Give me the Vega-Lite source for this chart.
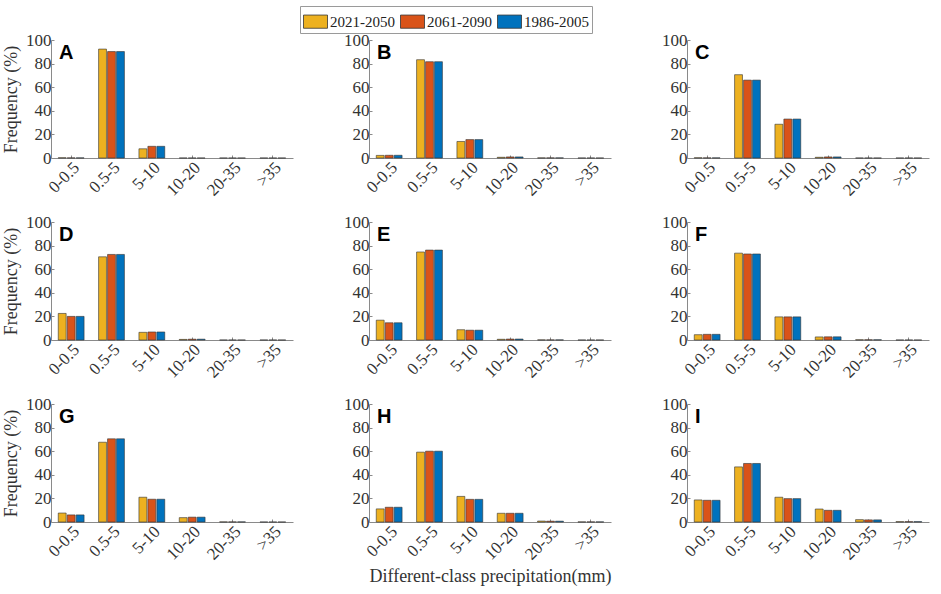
{
  "$schema": "https://vega.github.io/schema/vega-lite/v6.json",
  "padding": {"left": 2, "top": 5, "right": 5, "bottom": 5},
  "background": "white",
  "datasets": {
    "freq": [
      {"panel": "A", "cls": "0-0.5", "period": "2021-2050", "value": 0.2},
      {"panel": "A", "cls": "0-0.5", "period": "2061-2090", "value": 0.1},
      {"panel": "A", "cls": "0-0.5", "period": "1986-2005", "value": 0.1},
      {"panel": "A", "cls": "0.5-5", "period": "2021-2050", "value": 92.3},
      {"panel": "A", "cls": "0.5-5", "period": "2061-2090", "value": 90.2},
      {"panel": "A", "cls": "0.5-5", "period": "1986-2005", "value": 90.2},
      {"panel": "A", "cls": "5-10", "period": "2021-2050", "value": 7.8},
      {"panel": "A", "cls": "5-10", "period": "2061-2090", "value": 9.9},
      {"panel": "A", "cls": "5-10", "period": "1986-2005", "value": 9.9},
      {"panel": "A", "cls": "10-20", "period": "2021-2050", "value": 0},
      {"panel": "A", "cls": "10-20", "period": "2061-2090", "value": 0},
      {"panel": "A", "cls": "10-20", "period": "1986-2005", "value": 0},
      {"panel": "A", "cls": "20-35", "period": "2021-2050", "value": 0},
      {"panel": "A", "cls": "20-35", "period": "2061-2090", "value": 0},
      {"panel": "A", "cls": "20-35", "period": "1986-2005", "value": 0},
      {"panel": "A", "cls": ">35", "period": "2021-2050", "value": 0},
      {"panel": "A", "cls": ">35", "period": "2061-2090", "value": 0},
      {"panel": "A", "cls": ">35", "period": "1986-2005", "value": 0},

      {"panel": "B", "cls": "0-0.5", "period": "2021-2050", "value": 2.2},
      {"panel": "B", "cls": "0-0.5", "period": "2061-2090", "value": 2.3},
      {"panel": "B", "cls": "0-0.5", "period": "1986-2005", "value": 2.3},
      {"panel": "B", "cls": "0.5-5", "period": "2021-2050", "value": 83.3},
      {"panel": "B", "cls": "0.5-5", "period": "2061-2090", "value": 81.6},
      {"panel": "B", "cls": "0.5-5", "period": "1986-2005", "value": 81.6},
      {"panel": "B", "cls": "5-10", "period": "2021-2050", "value": 14.0},
      {"panel": "B", "cls": "5-10", "period": "2061-2090", "value": 15.6},
      {"panel": "B", "cls": "5-10", "period": "1986-2005", "value": 15.6},
      {"panel": "B", "cls": "10-20", "period": "2021-2050", "value": 0.6},
      {"panel": "B", "cls": "10-20", "period": "2061-2090", "value": 0.9},
      {"panel": "B", "cls": "10-20", "period": "1986-2005", "value": 0.9},
      {"panel": "B", "cls": "20-35", "period": "2021-2050", "value": 0.1},
      {"panel": "B", "cls": "20-35", "period": "2061-2090", "value": 0.1},
      {"panel": "B", "cls": "20-35", "period": "1986-2005", "value": 0.1},
      {"panel": "B", "cls": ">35", "period": "2021-2050", "value": 0},
      {"panel": "B", "cls": ">35", "period": "2061-2090", "value": 0},
      {"panel": "B", "cls": ">35", "period": "1986-2005", "value": 0},

      {"panel": "C", "cls": "0-0.5", "period": "2021-2050", "value": 0.2},
      {"panel": "C", "cls": "0-0.5", "period": "2061-2090", "value": 0.1},
      {"panel": "C", "cls": "0-0.5", "period": "1986-2005", "value": 0.1},
      {"panel": "C", "cls": "0.5-5", "period": "2021-2050", "value": 70.6},
      {"panel": "C", "cls": "0.5-5", "period": "2061-2090", "value": 66.0},
      {"panel": "C", "cls": "0.5-5", "period": "1986-2005", "value": 66.0},
      {"panel": "C", "cls": "5-10", "period": "2021-2050", "value": 28.6},
      {"panel": "C", "cls": "5-10", "period": "2061-2090", "value": 33.0},
      {"panel": "C", "cls": "5-10", "period": "1986-2005", "value": 33.0},
      {"panel": "C", "cls": "10-20", "period": "2021-2050", "value": 0.6},
      {"panel": "C", "cls": "10-20", "period": "2061-2090", "value": 0.9},
      {"panel": "C", "cls": "10-20", "period": "1986-2005", "value": 0.9},
      {"panel": "C", "cls": "20-35", "period": "2021-2050", "value": 0},
      {"panel": "C", "cls": "20-35", "period": "2061-2090", "value": 0},
      {"panel": "C", "cls": "20-35", "period": "1986-2005", "value": 0},
      {"panel": "C", "cls": ">35", "period": "2021-2050", "value": 0},
      {"panel": "C", "cls": ">35", "period": "2061-2090", "value": 0},
      {"panel": "C", "cls": ">35", "period": "1986-2005", "value": 0},

      {"panel": "D", "cls": "0-0.5", "period": "2021-2050", "value": 22.5},
      {"panel": "D", "cls": "0-0.5", "period": "2061-2090", "value": 20.0},
      {"panel": "D", "cls": "0-0.5", "period": "1986-2005", "value": 20.0},
      {"panel": "D", "cls": "0.5-5", "period": "2021-2050", "value": 70.5},
      {"panel": "D", "cls": "0.5-5", "period": "2061-2090", "value": 72.5},
      {"panel": "D", "cls": "0.5-5", "period": "1986-2005", "value": 72.5},
      {"panel": "D", "cls": "5-10", "period": "2021-2050", "value": 6.5},
      {"panel": "D", "cls": "5-10", "period": "2061-2090", "value": 6.8},
      {"panel": "D", "cls": "5-10", "period": "1986-2005", "value": 6.8},
      {"panel": "D", "cls": "10-20", "period": "2021-2050", "value": 0.5},
      {"panel": "D", "cls": "10-20", "period": "2061-2090", "value": 0.7},
      {"panel": "D", "cls": "10-20", "period": "1986-2005", "value": 0.7},
      {"panel": "D", "cls": "20-35", "period": "2021-2050", "value": 0},
      {"panel": "D", "cls": "20-35", "period": "2061-2090", "value": 0},
      {"panel": "D", "cls": "20-35", "period": "1986-2005", "value": 0},
      {"panel": "D", "cls": ">35", "period": "2021-2050", "value": 0},
      {"panel": "D", "cls": ">35", "period": "2061-2090", "value": 0},
      {"panel": "D", "cls": ">35", "period": "1986-2005", "value": 0},

      {"panel": "E", "cls": "0-0.5", "period": "2021-2050", "value": 16.8},
      {"panel": "E", "cls": "0-0.5", "period": "2061-2090", "value": 14.6},
      {"panel": "E", "cls": "0-0.5", "period": "1986-2005", "value": 14.6},
      {"panel": "E", "cls": "0.5-5", "period": "2021-2050", "value": 74.6},
      {"panel": "E", "cls": "0.5-5", "period": "2061-2090", "value": 76.2},
      {"panel": "E", "cls": "0.5-5", "period": "1986-2005", "value": 76.2},
      {"panel": "E", "cls": "5-10", "period": "2021-2050", "value": 8.7},
      {"panel": "E", "cls": "5-10", "period": "2061-2090", "value": 8.3},
      {"panel": "E", "cls": "5-10", "period": "1986-2005", "value": 8.3},
      {"panel": "E", "cls": "10-20", "period": "2021-2050", "value": 0.6},
      {"panel": "E", "cls": "10-20", "period": "2061-2090", "value": 0.8},
      {"panel": "E", "cls": "10-20", "period": "1986-2005", "value": 0.8},
      {"panel": "E", "cls": "20-35", "period": "2021-2050", "value": 0.1},
      {"panel": "E", "cls": "20-35", "period": "2061-2090", "value": 0.1},
      {"panel": "E", "cls": "20-35", "period": "1986-2005", "value": 0.1},
      {"panel": "E", "cls": ">35", "period": "2021-2050", "value": 0},
      {"panel": "E", "cls": ">35", "period": "2061-2090", "value": 0},
      {"panel": "E", "cls": ">35", "period": "1986-2005", "value": 0},

      {"panel": "F", "cls": "0-0.5", "period": "2021-2050", "value": 4.5},
      {"panel": "F", "cls": "0-0.5", "period": "2061-2090", "value": 4.8},
      {"panel": "F", "cls": "0-0.5", "period": "1986-2005", "value": 4.8},
      {"panel": "F", "cls": "0.5-5", "period": "2021-2050", "value": 73.6},
      {"panel": "F", "cls": "0.5-5", "period": "2061-2090", "value": 72.9},
      {"panel": "F", "cls": "0.5-5", "period": "1986-2005", "value": 72.9},
      {"panel": "F", "cls": "5-10", "period": "2021-2050", "value": 19.6},
      {"panel": "F", "cls": "5-10", "period": "2061-2090", "value": 19.6},
      {"panel": "F", "cls": "5-10", "period": "1986-2005", "value": 19.6},
      {"panel": "F", "cls": "10-20", "period": "2021-2050", "value": 2.6},
      {"panel": "F", "cls": "10-20", "period": "2061-2090", "value": 2.7},
      {"panel": "F", "cls": "10-20", "period": "1986-2005", "value": 2.7},
      {"panel": "F", "cls": "20-35", "period": "2021-2050", "value": 0.2},
      {"panel": "F", "cls": "20-35", "period": "2061-2090", "value": 0.2},
      {"panel": "F", "cls": "20-35", "period": "1986-2005", "value": 0.2},
      {"panel": "F", "cls": ">35", "period": "2021-2050", "value": 0},
      {"panel": "F", "cls": ">35", "period": "2061-2090", "value": 0},
      {"panel": "F", "cls": ">35", "period": "1986-2005", "value": 0},

      {"panel": "G", "cls": "0-0.5", "period": "2021-2050", "value": 7.6},
      {"panel": "G", "cls": "0-0.5", "period": "2061-2090", "value": 6.0},
      {"panel": "G", "cls": "0-0.5", "period": "1986-2005", "value": 6.0},
      {"panel": "G", "cls": "0.5-5", "period": "2021-2050", "value": 67.6},
      {"panel": "G", "cls": "0.5-5", "period": "2061-2090", "value": 70.5},
      {"panel": "G", "cls": "0.5-5", "period": "1986-2005", "value": 70.5},
      {"panel": "G", "cls": "5-10", "period": "2021-2050", "value": 21.0},
      {"panel": "G", "cls": "5-10", "period": "2061-2090", "value": 19.3},
      {"panel": "G", "cls": "5-10", "period": "1986-2005", "value": 19.3},
      {"panel": "G", "cls": "10-20", "period": "2021-2050", "value": 3.7},
      {"panel": "G", "cls": "10-20", "period": "2061-2090", "value": 4.1},
      {"panel": "G", "cls": "10-20", "period": "1986-2005", "value": 4.1},
      {"panel": "G", "cls": "20-35", "period": "2021-2050", "value": 0.1},
      {"panel": "G", "cls": "20-35", "period": "2061-2090", "value": 0.1},
      {"panel": "G", "cls": "20-35", "period": "1986-2005", "value": 0.1},
      {"panel": "G", "cls": ">35", "period": "2021-2050", "value": 0},
      {"panel": "G", "cls": ">35", "period": "2061-2090", "value": 0},
      {"panel": "G", "cls": ">35", "period": "1986-2005", "value": 0},

      {"panel": "H", "cls": "0-0.5", "period": "2021-2050", "value": 11.1},
      {"panel": "H", "cls": "0-0.5", "period": "2061-2090", "value": 12.5},
      {"panel": "H", "cls": "0-0.5", "period": "1986-2005", "value": 12.5},
      {"panel": "H", "cls": "0.5-5", "period": "2021-2050", "value": 59.2},
      {"panel": "H", "cls": "0.5-5", "period": "2061-2090", "value": 60.0},
      {"panel": "H", "cls": "0.5-5", "period": "1986-2005", "value": 60.0},
      {"panel": "H", "cls": "5-10", "period": "2021-2050", "value": 21.7},
      {"panel": "H", "cls": "5-10", "period": "2061-2090", "value": 19.2},
      {"panel": "H", "cls": "5-10", "period": "1986-2005", "value": 19.2},
      {"panel": "H", "cls": "10-20", "period": "2021-2050", "value": 7.4},
      {"panel": "H", "cls": "10-20", "period": "2061-2090", "value": 7.4},
      {"panel": "H", "cls": "10-20", "period": "1986-2005", "value": 7.4},
      {"panel": "H", "cls": "20-35", "period": "2021-2050", "value": 0.8},
      {"panel": "H", "cls": "20-35", "period": "2061-2090", "value": 0.7},
      {"panel": "H", "cls": "20-35", "period": "1986-2005", "value": 0.7},
      {"panel": "H", "cls": ">35", "period": "2021-2050", "value": 0.1},
      {"panel": "H", "cls": ">35", "period": "2061-2090", "value": 0.1},
      {"panel": "H", "cls": ">35", "period": "1986-2005", "value": 0.1},

      {"panel": "I", "cls": "0-0.5", "period": "2021-2050", "value": 18.7},
      {"panel": "I", "cls": "0-0.5", "period": "2061-2090", "value": 18.4},
      {"panel": "I", "cls": "0-0.5", "period": "1986-2005", "value": 18.4},
      {"panel": "I", "cls": "0.5-5", "period": "2021-2050", "value": 46.7},
      {"panel": "I", "cls": "0.5-5", "period": "2061-2090", "value": 49.6},
      {"panel": "I", "cls": "0.5-5", "period": "1986-2005", "value": 49.6},
      {"panel": "I", "cls": "5-10", "period": "2021-2050", "value": 21.0},
      {"panel": "I", "cls": "5-10", "period": "2061-2090", "value": 19.8},
      {"panel": "I", "cls": "5-10", "period": "1986-2005", "value": 19.8},
      {"panel": "I", "cls": "10-20", "period": "2021-2050", "value": 11.0},
      {"panel": "I", "cls": "10-20", "period": "2061-2090", "value": 9.9},
      {"panel": "I", "cls": "10-20", "period": "1986-2005", "value": 9.9},
      {"panel": "I", "cls": "20-35", "period": "2021-2050", "value": 2.0},
      {"panel": "I", "cls": "20-35", "period": "2061-2090", "value": 1.8},
      {"panel": "I", "cls": "20-35", "period": "1986-2005", "value": 1.8},
      {"panel": "I", "cls": ">35", "period": "2021-2050", "value": 0.3},
      {"panel": "I", "cls": ">35", "period": "2061-2090", "value": 0.3},
      {"panel": "I", "cls": ">35", "period": "1986-2005", "value": 0.3}
    ]
  },
  "data": {"name": "freq"},
  "bounds": "flush",
  "columns": 3,
  "spacing": {"row": 64, "column": 76},
  "concat": [
    {
      "width": 242, "height": 118,
      "title": "A",
      "transform": [{"filter": "datum.panel === 'A'"}],
      "mark": {"type": "bar", "stroke": "#333333", "strokeWidth": 0.6},
      "encoding": {
        "x": {"field": "cls", "type": "nominal", "sort": ["0-0.5", "0.5-5", "5-10", "10-20", "20-35", ">35"], "scale": {"paddingInner": 0.36, "paddingOuter": 0.18}, "axis": {"title": null}},
        "xOffset": {"field": "period", "sort": ["2021-2050", "2061-2090", "1986-2005"], "scale": {"paddingInner": 0.12}},
        "y": {"field": "value", "type": "quantitative", "scale": {"domain": [0, 100]}, "axis": {"title": "Frequency (%)", "values": [0, 20, 40, 60, 80, 100]}},
        "color": {"field": "period", "type": "nominal", "sort": ["2021-2050", "2061-2090", "1986-2005"], "scale": {"range": ["#EDB120", "#D95319", "#0072BD"]},
          "legend": {"orient": "none", "legendX": 249, "legendY": -34, "direction": "horizontal", "title": null}}
      }
    },
    {
      "width": 242, "height": 118,
      "title": "B",
      "transform": [{"filter": "datum.panel === 'B'"}],
      "mark": {"type": "bar", "stroke": "#333333", "strokeWidth": 0.6},
      "encoding": {
        "x": {"field": "cls", "type": "nominal", "sort": ["0-0.5", "0.5-5", "5-10", "10-20", "20-35", ">35"], "scale": {"paddingInner": 0.36, "paddingOuter": 0.18}, "axis": {"title": null}},
        "xOffset": {"field": "period", "sort": ["2021-2050", "2061-2090", "1986-2005"], "scale": {"paddingInner": 0.12}},
        "y": {"field": "value", "type": "quantitative", "scale": {"domain": [0, 100]}, "axis": {"title": null, "values": [0, 20, 40, 60, 80, 100]}},
        "color": {"field": "period", "type": "nominal", "sort": ["2021-2050", "2061-2090", "1986-2005"]}
      }
    },
    {
      "width": 242, "height": 118,
      "title": "C",
      "transform": [{"filter": "datum.panel === 'C'"}],
      "mark": {"type": "bar", "stroke": "#333333", "strokeWidth": 0.6},
      "encoding": {
        "x": {"field": "cls", "type": "nominal", "sort": ["0-0.5", "0.5-5", "5-10", "10-20", "20-35", ">35"], "scale": {"paddingInner": 0.36, "paddingOuter": 0.18}, "axis": {"title": null}},
        "xOffset": {"field": "period", "sort": ["2021-2050", "2061-2090", "1986-2005"], "scale": {"paddingInner": 0.12}},
        "y": {"field": "value", "type": "quantitative", "scale": {"domain": [0, 100]}, "axis": {"title": null, "values": [0, 20, 40, 60, 80, 100]}},
        "color": {"field": "period", "type": "nominal", "sort": ["2021-2050", "2061-2090", "1986-2005"]}
      }
    },
    {
      "width": 242, "height": 118,
      "title": "D",
      "transform": [{"filter": "datum.panel === 'D'"}],
      "mark": {"type": "bar", "stroke": "#333333", "strokeWidth": 0.6},
      "encoding": {
        "x": {"field": "cls", "type": "nominal", "sort": ["0-0.5", "0.5-5", "5-10", "10-20", "20-35", ">35"], "scale": {"paddingInner": 0.36, "paddingOuter": 0.18}, "axis": {"title": null}},
        "xOffset": {"field": "period", "sort": ["2021-2050", "2061-2090", "1986-2005"], "scale": {"paddingInner": 0.12}},
        "y": {"field": "value", "type": "quantitative", "scale": {"domain": [0, 100]}, "axis": {"title": "Frequency (%)", "values": [0, 20, 40, 60, 80, 100]}},
        "color": {"field": "period", "type": "nominal", "sort": ["2021-2050", "2061-2090", "1986-2005"]}
      }
    },
    {
      "width": 242, "height": 118,
      "title": "E",
      "transform": [{"filter": "datum.panel === 'E'"}],
      "mark": {"type": "bar", "stroke": "#333333", "strokeWidth": 0.6},
      "encoding": {
        "x": {"field": "cls", "type": "nominal", "sort": ["0-0.5", "0.5-5", "5-10", "10-20", "20-35", ">35"], "scale": {"paddingInner": 0.36, "paddingOuter": 0.18}, "axis": {"title": null}},
        "xOffset": {"field": "period", "sort": ["2021-2050", "2061-2090", "1986-2005"], "scale": {"paddingInner": 0.12}},
        "y": {"field": "value", "type": "quantitative", "scale": {"domain": [0, 100]}, "axis": {"title": null, "values": [0, 20, 40, 60, 80, 100]}},
        "color": {"field": "period", "type": "nominal", "sort": ["2021-2050", "2061-2090", "1986-2005"]}
      }
    },
    {
      "width": 242, "height": 118,
      "title": "F",
      "transform": [{"filter": "datum.panel === 'F'"}],
      "mark": {"type": "bar", "stroke": "#333333", "strokeWidth": 0.6},
      "encoding": {
        "x": {"field": "cls", "type": "nominal", "sort": ["0-0.5", "0.5-5", "5-10", "10-20", "20-35", ">35"], "scale": {"paddingInner": 0.36, "paddingOuter": 0.18}, "axis": {"title": null}},
        "xOffset": {"field": "period", "sort": ["2021-2050", "2061-2090", "1986-2005"], "scale": {"paddingInner": 0.12}},
        "y": {"field": "value", "type": "quantitative", "scale": {"domain": [0, 100]}, "axis": {"title": null, "values": [0, 20, 40, 60, 80, 100]}},
        "color": {"field": "period", "type": "nominal", "sort": ["2021-2050", "2061-2090", "1986-2005"]}
      }
    },
    {
      "width": 242, "height": 118,
      "title": "G",
      "transform": [{"filter": "datum.panel === 'G'"}],
      "mark": {"type": "bar", "stroke": "#333333", "strokeWidth": 0.6},
      "encoding": {
        "x": {"field": "cls", "type": "nominal", "sort": ["0-0.5", "0.5-5", "5-10", "10-20", "20-35", ">35"], "scale": {"paddingInner": 0.36, "paddingOuter": 0.18}, "axis": {"title": null}},
        "xOffset": {"field": "period", "sort": ["2021-2050", "2061-2090", "1986-2005"], "scale": {"paddingInner": 0.12}},
        "y": {"field": "value", "type": "quantitative", "scale": {"domain": [0, 100]}, "axis": {"title": "Frequency (%)", "values": [0, 20, 40, 60, 80, 100]}},
        "color": {"field": "period", "type": "nominal", "sort": ["2021-2050", "2061-2090", "1986-2005"]}
      }
    },
    {
      "width": 242, "height": 118,
      "title": "H",
      "transform": [{"filter": "datum.panel === 'H'"}],
      "mark": {"type": "bar", "stroke": "#333333", "strokeWidth": 0.6},
      "encoding": {
        "x": {"field": "cls", "type": "nominal", "sort": ["0-0.5", "0.5-5", "5-10", "10-20", "20-35", ">35"], "scale": {"paddingInner": 0.36, "paddingOuter": 0.18}, "axis": {"title": "Different-class precipitation(mm)"}},
        "xOffset": {"field": "period", "sort": ["2021-2050", "2061-2090", "1986-2005"], "scale": {"paddingInner": 0.12}},
        "y": {"field": "value", "type": "quantitative", "scale": {"domain": [0, 100]}, "axis": {"title": null, "values": [0, 20, 40, 60, 80, 100]}},
        "color": {"field": "period", "type": "nominal", "sort": ["2021-2050", "2061-2090", "1986-2005"]}
      }
    },
    {
      "width": 242, "height": 118,
      "title": "I",
      "transform": [{"filter": "datum.panel === 'I'"}],
      "mark": {"type": "bar", "stroke": "#333333", "strokeWidth": 0.6},
      "encoding": {
        "x": {"field": "cls", "type": "nominal", "sort": ["0-0.5", "0.5-5", "5-10", "10-20", "20-35", ">35"], "scale": {"paddingInner": 0.36, "paddingOuter": 0.18}, "axis": {"title": null}},
        "xOffset": {"field": "period", "sort": ["2021-2050", "2061-2090", "1986-2005"], "scale": {"paddingInner": 0.12}},
        "y": {"field": "value", "type": "quantitative", "scale": {"domain": [0, 100]}, "axis": {"title": null, "values": [0, 20, 40, 60, 80, 100]}},
        "color": {"field": "period", "type": "nominal", "sort": ["2021-2050", "2061-2090", "1986-2005"]}
      }
    }
  ],
  "resolve": {"scale": {"color": "shared"}},
  "config": {
    "view": {"stroke": null},
    "axis": {
      "domainColor": "#8a8a8a",
      "tickColor": "#8a8a8a",
      "tickSize": -3,
      "labelColor": "#333333",
      "labelFont": "Liberation Serif",
      "labelFontSize": 17,
      "labelPadding": 3,
      "titleFont": "Liberation Serif",
      "titleFontSize": 18,
      "titleFontWeight": "normal",
      "titleColor": "#333333",
      "grid": false
    },
    "axisX": {"labelAngle": -45, "labelPadding": 4, "titlePadding": 5},
    "axisY": {"titlePadding": 5},
    "title": {
      "anchor": "start",
      "frame": "group",
      "font": "Liberation Sans",
      "fontWeight": "bold",
      "fontSize": 20,
      "color": "#000000",
      "baseline": "top",
      "offset": 0,
      "dx": 8,
      "dy": 36
    },
    "legend": {
      "labelFont": "Liberation Serif",
      "labelFontSize": 15,
      "labelColor": "#222222",
      "symbolType": "M-1,-0.55H1V0.55H-1Z",
      "symbolSize": 576,
      "symbolStrokeColor": "#333333",
      "symbolStrokeWidth": 0.8,
      "symbolOpacity": 1,
      "labelOffset": 2,
      "columnPadding": 3,
      "padding": 3,
      "strokeColor": "#9a9a9a"
    }
  }
}
